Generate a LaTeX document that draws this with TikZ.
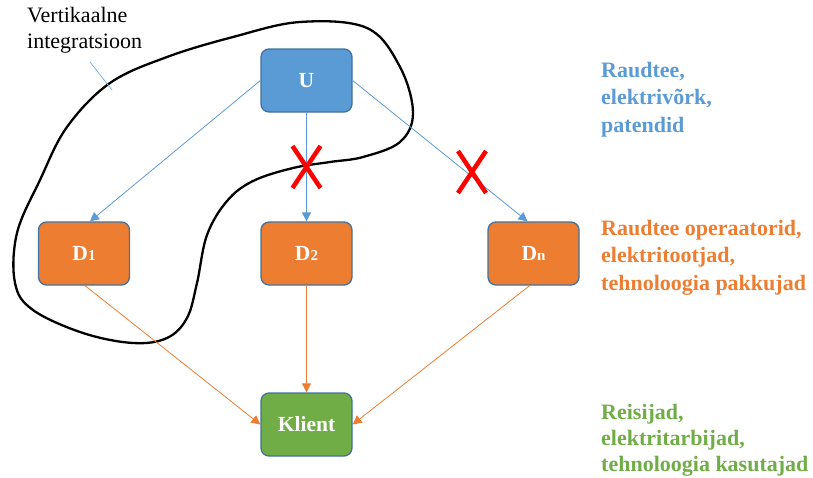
\documentclass[tikz,border=0pt]{standalone}
\usepackage{fontspec}
\setmainfont{Liberation Serif}
\usetikzlibrary{arrows.meta,calc}
\definecolor{ublue}{HTML}{5B9BD5}
\definecolor{dorange}{HTML}{ED7D31}
\definecolor{kgreen}{HTML}{70AD47}
\definecolor{bord}{HTML}{41719C}
\definecolor{leader}{HTML}{7FB0DD}
\tikzset{
  box/.style={draw=bord, line width=1.3pt, rounded corners=8pt, minimum width=91pt, minimum height=63pt, inner sep=0pt, text=white, font=\fontsize{21.5}{25}\selectfont\bfseries},
  bluearrow/.style={draw=ublue, line width=0.8pt, -{Triangle[length=9pt,width=9pt]}},
  orangearrow/.style={draw=dorange, line width=0.8pt, -{Triangle[length=9pt,width=9pt]}},
  crossline/.style={draw=red, line width=4.5pt},
  sidetext/.style={anchor=north west, align=left, inner sep=0pt, font=\fontsize{22}{27.5}\selectfont\bfseries},
}
\newcommand{\sub}[1]{\raisebox{-0.5pt}{\fontsize{15}{15}\selectfont #1}}
\begin{document}
\begin{tikzpicture}[x=1pt,y=-1pt]
\useasboundingbox (0,0) rectangle (813,477);

% loop
\draw[line width=2.3pt, black] plot[smooth cycle, tension=0.6] coordinates {
  (300,22) (367,28) (400,67) (413,113) (400,142) (363,157) (330,162)
  (293,168) (253,181) (227,201) (207,235) (197,283) (187,318) (167,338)
  (133,343) (83,333) (33,310) (15,283) (17,233) (40,180) (67,127)
  (110,83) (167,57) (233,37)};

% nodes
\node[box, fill=ublue] (U) at (306.5,80.5) {U};
\node[box, fill=dorange] (D1) at (84,253.5) {D\sub{1}};
\node[box, fill=dorange] (D2) at (306.5,253.5) {D\sub{2}};
\node[box, fill=dorange] (Dn) at (533.5,253.5) {D\sub{n}};
\node[box, fill=kgreen] (K) at (306.5,424.5) {Klient};

% label
\node[anchor=north west, align=left, inner sep=0pt, font=\fontsize{22}{26}\selectfont] (lab) at (27,7) {Vertikaalne\\integratsioon};
\coordinate (lead1) at (90,62);
\coordinate (lead2) at (112,90);
\draw[leader, line width=0.8pt] (lead1) -- (lead2);

% connectors
\draw[bluearrow] (U.west) -- ([xshift=6pt]D1.north);
\draw[bluearrow] (U.south) -- (D2.north);
\draw[bluearrow] (U.east) -- ([xshift=-6pt]Dn.north);
\draw[orangearrow] ([xshift=1pt]D1.south) -- (K.west);
\draw[orangearrow] (D2.south) -- (K.north);
\draw[orangearrow] ([xshift=-4pt]Dn.south) -- (K.east);

% crosses
\path (U.south) -- (D2.north) coordinate[midway] (x1);
\coordinate (x2) at (472,172);
\foreach \c in {x1,x2}{
  \draw[crossline] ($(\c)+(-14,-21)$) -- ($(\c)+(14,21)$);
  \draw[crossline] ($(\c)+(14,-21)$) -- ($(\c)+(-14,21)$);
}

% side texts
\node[sidetext, text=ublue] (t1) at (601,62) {Raudtee,\\elektrivõrk,\\patendid};
\node[sidetext, text=dorange] (t2) at (601,220) {Raudtee operaatorid,\\elektritootjad,\\tehnoloogia pakkujad};
\node[sidetext, text=kgreen, font=\fontsize{22}{26}\selectfont\bfseries] (t3) at (601,404) {Reisijad,\\elektritarbijad,\\tehnoloogia kasutajad};
\end{tikzpicture}
\end{document}
